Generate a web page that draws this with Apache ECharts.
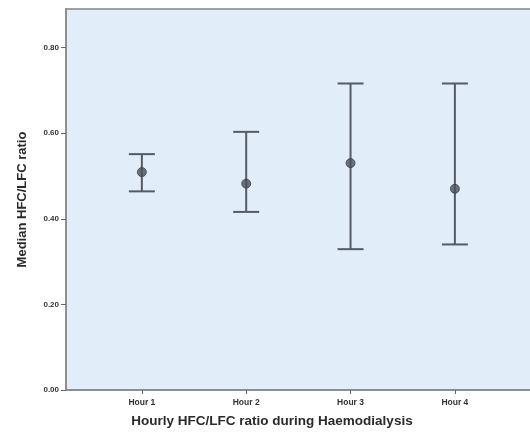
<!DOCTYPE html>
<html><head><meta charset="utf-8">
<script src="https://cdn.jsdelivr.net/npm/echarts@6/dist/echarts.min.js"></script>
<style>html,body{margin:0;padding:0;background:#fff}#c{width:530px;height:432px}</style>
</head><body><div id="c"></div>
<script>
const categories = ['Hour 1', 'Hour 2', 'Hour 3', 'Hour 4'];
const medians = [0.509, 0.482, 0.530, 0.470];
const lowerCI = [0.464, 0.416, 0.329, 0.340];
const upperCI = [0.551, 0.603, 0.716, 0.716];
const yTicks = [0, 0.2, 0.4, 0.6, 0.8];

const chart = echarts.init(document.getElementById('c'));
const barData = categories.map((c, i) => [i + 1, lowerCI[i], upperCI[i]]);
const pointData = categories.map((c, i) => [i + 1, medians[i]]);

chart.setOption({
  animation: false,
  grid: { left: 66, top: 9, right: -4, bottom: 42, show: true, backgroundColor: '#e1edf9', borderWidth: 0 },
  xAxis: {
    type: 'value', min: 0.273, max: 4.72,
    axisLine: { show: true, onZero: false, lineStyle: { color: '#8a8f96', width: 2 } },
    axisTick: { show: true, customValues: [1, 2, 3, 4], length: 4, lineStyle: { color: '#666' } },
    axisLabel: { customValues: [1, 2, 3, 4], formatter: v => categories[Math.round(v) - 1] || '', fontSize: 8.5, fontWeight: 'bold', color: '#333', fontFamily: 'Liberation Sans', margin: 8 },
    splitLine: { show: false }
  },
  yAxis: {
    type: 'value', min: 0, max: 0.89, interval: 0.2,
    name: 'Median HFC/LFC ratio', nameLocation: 'middle', nameGap: 37,
    nameTextStyle: { fontSize: 13, fontWeight: 'bold', color: '#2a2a2a', fontFamily: 'Liberation Sans' },
    axisLine: { show: true, lineStyle: { color: '#8a8f96', width: 2 } },
    axisTick: { show: true, customValues: yTicks, length: 5, lineStyle: { color: '#666' } },
    axisLabel: { customValues: yTicks, formatter: v => v.toFixed(2), fontSize: 8, fontWeight: 'bold', color: '#333', fontFamily: 'Liberation Sans', margin: 7 },
    splitLine: { show: false }
  },
  graphic: [
    { type: 'rect', shape: { x: 65, y: 8, width: 470, height: 2 }, style: { fill: '#9aa0a6' }, silent: true },
    { type: 'text', x: 272, y: 421, style: { text: 'Hourly HFC/LFC ratio during Haemodialysis', font: 'bold 13.5px "Liberation Sans"', fill: '#2a2a2a', textAlign: 'center', textVerticalAlign: 'middle' } }
  ],
  series: [
    {
      type: 'custom',
      data: barData,
      renderItem: function (params, api) {
        const x = api.value(0);
        const lo = api.coord([x, api.value(1)]);
        const hi = api.coord([x, api.value(2)]);
        const hw = 13;
        const style = { stroke: '#555b64', lineWidth: 2 };
        return {
          type: 'group',
          children: [
            { type: 'line', shape: { x1: lo[0], y1: lo[1], x2: hi[0], y2: hi[1] }, style },
            { type: 'line', shape: { x1: lo[0] - hw, y1: lo[1], x2: lo[0] + hw, y2: lo[1] }, style },
            { type: 'line', shape: { x1: hi[0] - hw, y1: hi[1], x2: hi[0] + hw, y2: hi[1] }, style }
          ]
        };
      },
      z: 2
    },
    {
      type: 'scatter', data: pointData, symbol: 'circle', symbolSize: 9,
      itemStyle: { color: '#4a5059', borderColor: '#3a4048', borderWidth: 1 }, z: 3
    }
  ]
});
</script></body></html>
